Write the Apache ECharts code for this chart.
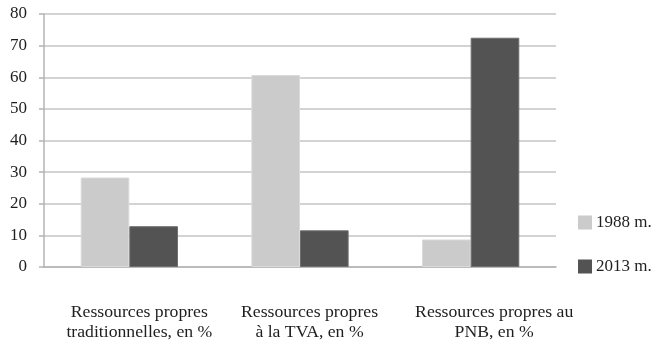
<!DOCTYPE html>
<html>
<head>
<meta charset="utf-8">
<script src="https://cdn.jsdelivr.net/npm/echarts@6/dist/echarts.min.js"></script>
<style>
  html, body { margin: 0; padding: 0; background: #fff; }
  #chart { width: 664px; height: 350px; }
</style>
</head>
<body>
<div id="chart"></div>
<script>
// Categories (two-line labels) and shares per year
const categories = [
  'Ressources propres\ntraditionnelles, en %',
  'Ressources propres\nà la TVA, en %',
  'Ressources propres au\nPNB, en %'
];
const values1988 = [28.3, 60.7, 8.7];
const values2013 = [12.9, 11.6, 72.5];
const seriesNames = ['1988 m.', '2013 m.'];
const yTicks = { min: 0, max: 80, interval: 10 };

// Slight horizontal nudges for each category label
const labelShift = [20, 19, 47];

const serif = '"Liberation Serif", "DejaVu Serif", serif';
const chart = echarts.init(document.getElementById('chart'));

chart.setOption({
  animation: false,
  backgroundColor: '#ffffff',
  grid: { left: 44, right: 108, top: 14, bottom: 83 },
  legend: {
    orient: 'vertical',
    left: 578,
    top: 214,
    padding: 0,
    itemWidth: 14,
    itemHeight: 14,
    itemGap: 27,
    icon: 'rect',
    itemStyle: { borderWidth: 0 },
    textStyle: { fontFamily: serif, fontSize: 17, lineHeight: 14, color: '#1e1e1e', padding: [0, 0, 0, -1] },
    data: seriesNames
  },
  xAxis: {
    type: 'category',
    data: categories.map((c, i) => ({
      value: c,
      textStyle: { padding: [0, 0, 0, labelShift[i]] }
    })),
    axisLine: { show: true, lineStyle: { color: '#b4b4b4', width: 1.5 } },
    axisTick: { show: false },
    axisLabel: {
      interval: 0,
      margin: 35,
      fontFamily: serif,
      fontSize: 17.7,
      lineHeight: 20,
      color: '#1e1e1e'
    }
  },
  yAxis: {
    type: 'value',
    min: yTicks.min,
    max: yTicks.max,
    interval: yTicks.interval,
    axisLine: { show: true, lineStyle: { color: '#b4b4b4', width: 1.5 } },
    axisTick: { show: true, length: 5, lineStyle: { color: '#b4b4b4', width: 1.5 } },
    splitLine: { show: true, lineStyle: { color: '#c4c4c4', width: 1.5 } },
    axisLabel: {
      margin: 17,
      fontFamily: serif,
      fontSize: 17,
      color: '#1e1e1e'
    }
  },
  series: [
    {
      name: seriesNames[0],
      type: 'bar',
      data: values1988,
      barGap: '0%',
      barCategoryGap: '43%',
      itemStyle: { color: '#cbcbcb', borderColor: '#dadada', borderWidth: 1 }
    },
    {
      name: seriesNames[1],
      type: 'bar',
      data: values2013,
      barGap: '0%',
      barCategoryGap: '43%',
      itemStyle: { color: '#535353', borderColor: '#6e6e6e', borderWidth: 1 }
    }
  ]
});
</script>
</body>
</html>
